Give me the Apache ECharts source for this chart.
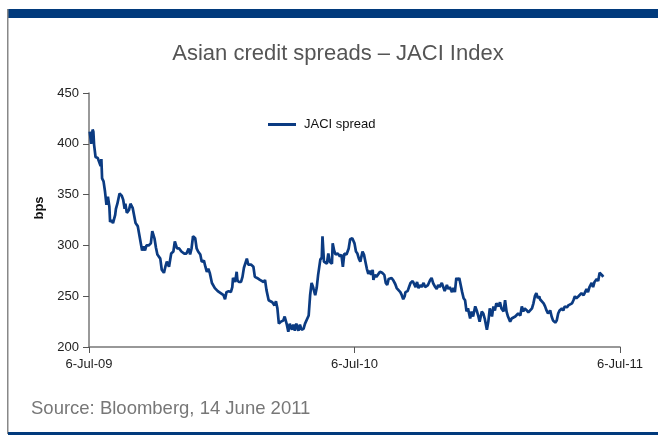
<!DOCTYPE html>
<html>
<head>
<meta charset="utf-8">
<title>Asian credit spreads – JACI Index</title>
<script src="https://cdn.jsdelivr.net/npm/echarts@6/dist/echarts.min.js"></script>
<style>
  html, body { margin: 0; padding: 0; background: #fff; }
  #chart { width: 658px; height: 438px; }
</style>
</head>
<body>
<div id="chart"></div>
<script>
// days since 6-Jul-09, JACI spread (bps)
var days = [1, 3, 5, 6, 7, 9, 12, 14, 16, 17, 18, 20, 22, 24, 26, 28, 29, 31, 33, 36,
  37, 39, 42, 45, 47, 49, 50, 52, 55, 57, 60, 62, 64, 67, 69, 72, 73, 75, 77, 79,
  82, 85, 87, 90, 92, 94, 98, 100, 103, 105, 107, 110, 113, 116, 118, 121, 124, 127, 131, 134,
  137, 139, 141, 143, 146, 148, 150, 153, 155, 158, 160, 162, 164, 166, 169, 171, 173, 177, 179, 181,
  185, 187, 189, 192, 195, 197, 198, 201, 203, 204, 206, 209, 211, 213, 214, 217, 219, 223, 226, 228,
  231, 233, 235, 237, 240, 242, 244, 247, 249, 252, 255, 257, 259, 261, 264, 267, 269, 272, 274, 276,
  279, 281, 283, 285, 288, 290, 292, 295, 297, 299, 302, 304, 306, 308, 311, 313, 315, 318, 320, 321,
  323, 327, 329, 331, 334, 335, 337, 339, 342, 345, 347, 349, 351, 354, 357, 359, 362, 365, 367, 369,
  371, 373, 376, 378, 380, 382, 384, 386, 388, 390, 391, 393, 395, 398, 400, 403, 406, 408, 410, 412,
  414, 416, 418, 421, 423, 425, 428, 430, 432, 434, 435, 438, 440, 442, 445, 447, 449, 451, 453, 455,
  457, 460, 462, 464, 466, 469, 471, 473, 476, 478, 480, 482, 485, 487, 489, 492, 494, 496, 499, 501,
  503, 505, 507, 509, 511, 513, 515, 517, 519, 521, 524, 526, 528, 531, 533, 535, 537, 540, 542, 544,
  547, 549, 551, 554, 556, 558, 560, 563, 565, 567, 570, 572, 574, 576, 579, 581, 583, 586, 588, 590,
  593, 595, 597, 599, 602, 604, 606, 609, 611, 613, 615, 617, 619, 620, 622, 625, 627, 629, 631, 634,
  636, 638, 641, 643, 645, 647, 650, 652, 654, 657, 659, 661, 664, 666, 668, 670, 673, 675, 677, 680,
  682, 684, 686, 688, 691, 693, 695, 698, 700, 702, 705, 707];
var spread = [412, 400, 414, 412, 399, 387, 386, 387, 378, 385, 366, 363, 353, 340, 348, 338, 323, 325, 322, 330,
  336, 341, 351, 349, 345, 336, 341, 332, 335, 341, 337, 336, 322, 319, 320, 299, 295, 299, 295, 300,
  300, 302, 314, 307, 298, 291, 287, 276, 273, 279, 284, 279, 292, 294, 304, 297, 297, 294, 292, 292,
  297, 291, 297, 309, 307, 297, 294, 291, 284, 285, 279, 274, 277, 273, 263, 263, 258, 255, 254, 253,
  251, 247, 254, 255, 254, 259, 268, 264, 274, 266, 264, 264, 269, 278, 279, 287, 281, 281, 279, 269,
  268, 268, 266, 267, 264, 266, 256, 246, 245, 244, 241, 245, 238, 223, 225, 226, 230, 222, 215, 223,
  217, 222, 216, 223, 216, 222, 217, 218, 223, 223, 231, 251, 263, 259, 251, 258, 271, 286, 288, 309,
  284, 282, 292, 284, 282, 302, 295, 291, 292, 289, 291, 279, 292, 291, 297, 306, 307, 302, 294, 292,
  287, 284, 294, 291, 284, 277, 272, 275, 271, 276, 266, 271, 269, 272, 274, 273, 271, 263, 261, 267,
  268, 268, 266, 262, 258, 257, 254, 251, 247, 250, 254, 255, 259, 263, 265, 264, 259, 264, 258, 261,
  259, 263, 259, 258, 261, 266, 268, 263, 259, 257, 261, 259, 263, 259, 255, 261, 257, 259, 254, 258,
  254, 268, 266, 268, 269, 254, 248, 246, 235, 238, 228, 235, 230, 240, 236, 231, 225, 235, 233, 228,
  217, 225, 238, 230, 240, 236, 243, 240, 244, 238, 235, 246, 235, 230, 225, 228, 227, 230, 230, 233,
  231, 240, 235, 238, 236, 234, 233, 238, 243, 250, 253, 248, 250, 247, 246, 243, 240, 236, 233, 236,
  230, 226, 224, 226, 233, 236, 238, 236, 240, 239, 241, 242, 243, 246, 250, 248, 250, 250, 253, 251,
  254, 257, 254, 259, 263, 259, 264, 267, 265, 273, 271, 269];
var xTickLabels = { 0: "6-Jul-09", 365: "6-Jul-10", 730: "6-Jul-11" };
var lastLabel = "269";

var navy = "#013a7c";
var lineColor = "#0b3b82";

var seriesData = days.map(function (d, i) {
  var item = { value: [d, spread[i]] };
  if (i === days.length - 1) {
    item.label = {
      show: true,
      formatter: lastLabel,
      position: "top",
      distance: 5,
      offset: [4, 0],
      fontFamily: "Liberation Sans",
      fontSize: 15,
      color: "#111"
    };
  }
  return item;
});

var myChart = echarts.init(document.getElementById("chart"));
var option = {
  animation: false,
  title: {
    text: "Asian credit spreads – JACI Index",
    left: 333,
    textAlign: "center",
    top: 38,
    textStyle: {
      fontFamily: "Liberation Sans",
      fontWeight: "normal",
      fontSize: 22,
      color: "#555"
    }
  },
  legend: {
    left: 268,
    top: 118,
    padding: 0,
    icon: "rect",
    itemWidth: 28,
    itemHeight: 3,
    textStyle: {
      fontFamily: "Liberation Sans",
      fontSize: 13,
      color: "#111",
      padding: [0, 0, 0, 3]
    },
    data: ["JACI spread"]
  },
  grid: {
    left: 89,
    right: 38,
    top: 93,
    bottom: 91,
    containLabel: false
  },
  xAxis: {
    type: "value",
    min: 0,
    max: 730,
    interval: 365,
    axisLine: { lineStyle: { color: "#777", width: 1.5 } },
    axisTick: { show: true, length: 6, lineStyle: { color: "#555" } },
    axisLabel: {
      margin: 11,
      fontFamily: "Liberation Sans",
      fontSize: 13,
      color: "#222",
      formatter: function (v) {
        return xTickLabels[v] || "";
      }
    },
    splitLine: { show: false }
  },
  yAxis: {
    type: "value",
    name: "bps",
    nameLocation: "middle",
    nameGap: 38,
    nameTextStyle: {
      fontFamily: "Liberation Sans",
      fontWeight: "bold",
      fontSize: 13,
      color: "#111",
      padding: [0, 0, 0, 24]
    },
    min: 200,
    max: 450,
    interval: 50,
    axisLine: { show: true, lineStyle: { color: "#777", width: 1.5 } },
    axisTick: { show: true, length: 6, lineStyle: { color: "#555" } },
    axisLabel: {
      margin: 10,
      fontFamily: "Liberation Sans",
      fontSize: 13,
      color: "#222"
    },
    splitLine: { show: false }
  },
  graphic: [
    { type: "rect", shape: { x: 8, y: 9, width: 650, height: 9 }, style: { fill: navy } },
    { type: "rect", shape: { x: 7, y: 9, width: 1.5, height: 425 }, style: { fill: "#888" } },
    { type: "rect", shape: { x: 8, y: 432, width: 650, height: 3 }, style: { fill: navy } },
    {
      type: "text",
      left: 31,
      top: 399,
      style: {
        text: "Source: Bloomberg, 14 June 2011",
        font: "18.5px 'Liberation Sans'",
        fill: "#777"
      }
    }
  ],
  series: [
    {
      name: "JACI spread",
      type: "line",
      showSymbol: false,
      symbol: "none",
      lineStyle: { color: lineColor, width: 2.7 },
      itemStyle: { color: lineColor },
      data: seriesData
    }
  ]
};
myChart.setOption(option, true);
</script>
</body>
</html>
